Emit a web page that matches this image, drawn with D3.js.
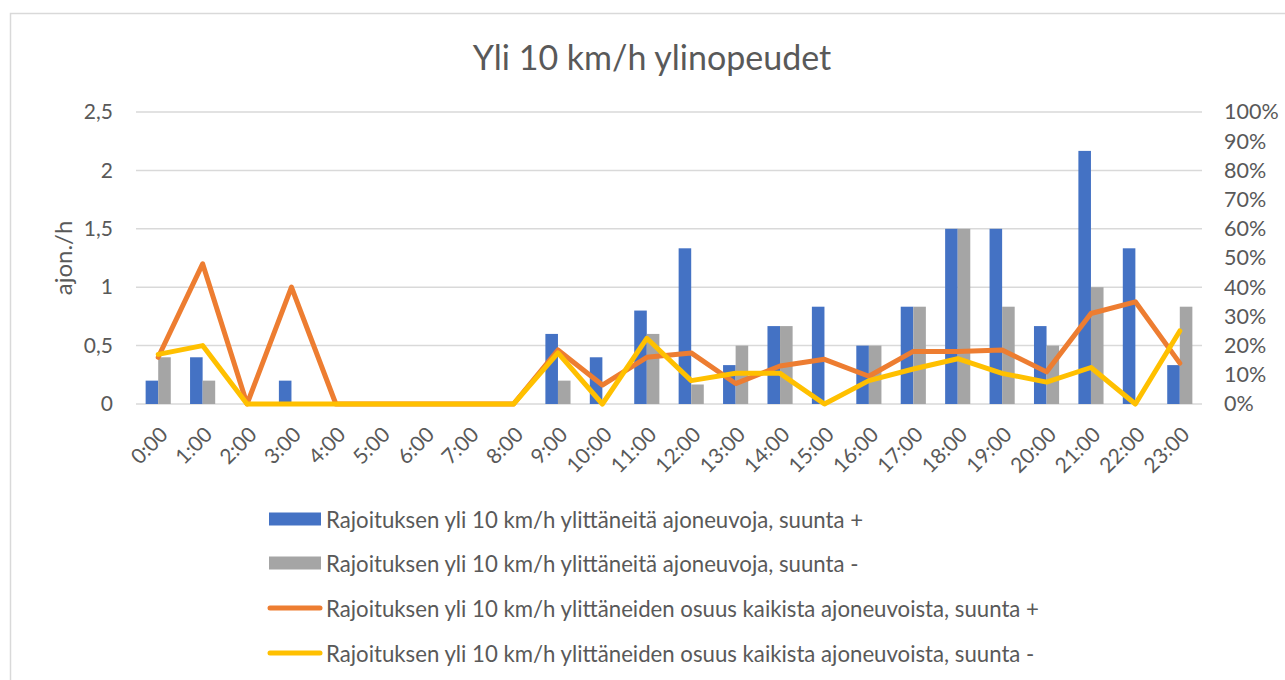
<!DOCTYPE html>
<html>
<head>
<meta charset="utf-8">
<script src="https://cdn.jsdelivr.net/npm/d3@7"></script>
<style>
  html, body { margin: 0; padding: 0; background: #ffffff; }
  svg { display: block; }
  text { font-family: Lato, "Open Sans", sans-serif; fill: #595959; }
</style>
</head>
<body>
<svg id="chart" width="1285" height="680"></svg>
<script>
// ---- data ----
const hours = ["0:00","1:00","2:00","3:00","4:00","5:00","6:00","7:00","8:00","9:00","10:00","11:00",
               "12:00","13:00","14:00","15:00","16:00","17:00","18:00","19:00","20:00","21:00","22:00","23:00"];
const countPlus  = [0.2,0.4,0,0.2,0,0,0,0,0,0.6,0.4,0.8,1.333,0.333,0.667,0.833,0.5,0.833,1.5,1.5,0.667,2.167,1.333,0.333];
const countMinus = [0.4,0.2,0,0,0,0,0,0,0,0.2,0,0.6,0.167,0.5,0.667,0,0.5,0.833,1.5,0.833,0.5,1.0,0,0.833];
const sharePlus  = [0.16,0.48,0,0.40,0,0,0,0,0,0.185,0.065,0.16,0.175,0.07,0.13,0.153,0.095,0.18,0.18,0.185,0.11,0.31,0.35,0.14];
const shareMinus = [0.17,0.20,0,0,0,0,0,0,0,0.175,0,0.225,0.08,0.105,0.105,0,0.08,0.12,0.155,0.105,0.075,0.125,0,0.25];
const leftTicks  = [0,0.5,1,1.5,2,2.5];
const rightTicks = [0,0.1,0.2,0.3,0.4,0.5,0.6,0.7,0.8,0.9,1.0];
const titleText = "Yli 10 km/h ylinopeudet";
const yAxisTitle = "ajon./h";
const seriesNames = [
  "Rajoituksen yli 10 km/h ylittäneitä ajoneuvoja, suunta +",
  "Rajoituksen yli 10 km/h ylittäneitä ajoneuvoja, suunta -",
  "Rajoituksen yli 10 km/h ylittäneiden osuus kaikista ajoneuvoista, suunta +",
  "Rajoituksen yli 10 km/h ylittäneiden osuus kaikista ajoneuvoista, suunta -"
];
const colors = ["#4472C4","#A5A5A5","#ED7D31","#FFC000"];

// ---- layout ----
const plot = {left: 136, right: 1202, top: 112, bottom: 404};
const svg = d3.select("#chart");

svg.append("rect").attr("x",10.5).attr("y",13.5).attr("width",1300).attr("height",700)
  .attr("fill","#fff").attr("stroke","#d9d9d9").attr("stroke-width",1.5);

const x = d3.scaleBand().domain(hours).range([plot.left, plot.right]).padding(0);
const yL = d3.scaleLinear().domain([0,2.5]).range([plot.bottom, plot.top]);
const yR = d3.scaleLinear().domain([0,1]).range([plot.bottom, plot.top]);
const cx = h => x(h) + x.bandwidth()/2;

const fi = d3.formatLocale({decimal: ",", thousands: " ", grouping: [3], currency: ["", "€"]});

// gridlines
svg.append("g").selectAll("line").data(leftTicks).join("line")
  .attr("x1", plot.left).attr("x2", plot.right)
  .attr("y1", d => yL(d)).attr("y2", d => yL(d))
  .attr("stroke", "#d9d9d9").attr("stroke-width", 1.5);

// left axis
const gL = svg.append("g").attr("transform", `translate(${plot.left},0)`)
  .call(d3.axisLeft(yL).tickValues(leftTicks).tickSize(0).tickPadding(23).tickFormat(fi.format("")));
gL.select(".domain").remove();
gL.selectAll("text").style("font-size","21px").attr("fill","#595959");

// right axis
const gR = svg.append("g").attr("transform", `translate(${plot.right},0)`)
  .call(d3.axisRight(yR).tickValues(rightTicks).tickSize(0).tickPadding(22).tickFormat(d3.format(".0%")));
gR.select(".domain").remove();
gR.selectAll("text").style("font-size","21.5px").attr("fill","#595959");

// x axis labels
svg.append("g").selectAll("text").data(hours).join("text")
  .attr("transform", d => `translate(${cx(d)+11},${436}) rotate(-45)`)
  .attr("text-anchor","end")
  .style("font-size","21px")
  .text(d => d);

// bars
const bw = x.bandwidth()*0.283;
svg.append("g").selectAll("rect").data(hours).join("rect")
  .attr("x", d => cx(d) - bw).attr("width", bw)
  .attr("y", (d,i) => yL(countPlus[i])).attr("height", (d,i) => yL(0) - yL(countPlus[i]))
  .attr("fill", colors[0]);
svg.append("g").selectAll("rect").data(hours).join("rect")
  .attr("x", d => cx(d)).attr("width", bw)
  .attr("y", (d,i) => yL(countMinus[i])).attr("height", (d,i) => yL(0) - yL(countMinus[i]))
  .attr("fill", colors[1]);

// lines
const line = d3.line().x(d => cx(d.h)).y(d => yR(d.v));
[sharePlus, shareMinus].forEach((arr, k) => {
  svg.append("path")
    .datum(hours.map((h,i) => ({h, v: arr[i]})))
    .attr("d", line)
    .attr("fill","none").attr("stroke", colors[2+k]).attr("stroke-width", 5)
    .attr("stroke-linejoin","round").attr("stroke-linecap","round");
});

// title
svg.append("text").attr("x", 652).attr("y", 70).attr("text-anchor","middle")
  .style("font-size","34px").text(titleText);

// y axis title
svg.append("text").attr("transform","translate(62,258) rotate(-90)")
  .attr("text-anchor","middle").attr("dominant-baseline","central")
  .style("font-size","24px").text(yAxisTitle);

// legend
const legY = [519, 563, 608, 653];
const lg = svg.append("g");
seriesNames.forEach((name, i) => {
  if (i < 2) {
    lg.append("rect").attr("x",269).attr("y",legY[i]-6.5).attr("width",52).attr("height",13).attr("fill",colors[i]);
  } else {
    lg.append("line").attr("x1",270).attr("x2",320).attr("y1",legY[i]).attr("y2",legY[i])
      .attr("stroke",colors[i]).attr("stroke-width",5).attr("stroke-linecap","round");
  }
  lg.append("text").attr("x",326).attr("y",legY[i]).attr("dominant-baseline","central")
    .style("font-size","22.2px").text(name);
});
</script>
</body>
</html>
